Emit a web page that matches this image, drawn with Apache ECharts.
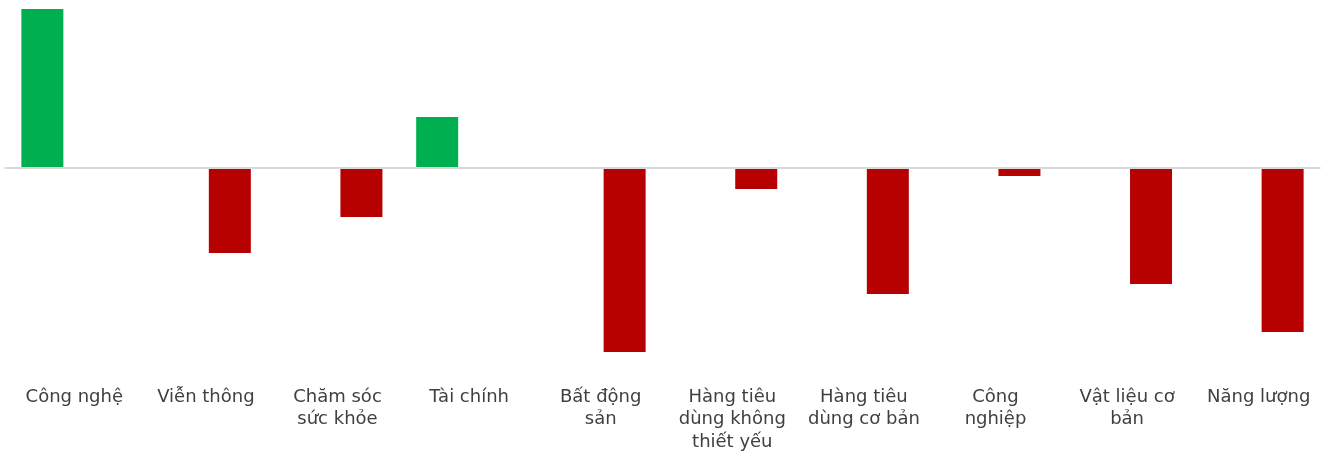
<!DOCTYPE html>
<html>
<head>
<meta charset="utf-8">
<script src="https://cdn.jsdelivr.net/npm/echarts@6/dist/echarts.min.js"></script>
<style>
html,body{margin:0;padding:0;background:#fff;}
#c{width:1328px;height:456px;}
</style>
</head>
<body>
<div id="c"></div>
<script>
var categories = ["Công nghệ", "Viễn thông", "Chăm sóc\nsức khỏe", "Tài chính", "Bất động\nsản", "Hàng tiêu\ndùng không\nthiết yếu", "Hàng tiêu\ndùng cơ bản", "Công\nnghiệp", "Vật liệu cơ\nbản", "Năng lượng"];
var positiveValues = [15.9, null, null, 5.1, null, null, null, null, null, null];
var negativeValues = [null, -8.5, -4.9, null, -18.4, -2.1, -12.6, -0.8, -11.6, -16.4];

var chart = echarts.init(document.getElementById('c'), null, {renderer: 'canvas'});
chart.setOption({
  animation: false,
  backgroundColor: '#ffffff',
  grid: {left: 4.5, right: 7.5, top: 9, bottom: 104, containLabel: false},
  xAxis: {
    type: 'category',
    data: categories,
    axisLine: {show: false, onZero: false},
    axisTick: {show: false},
    axisLabel: {
      interval: 0,
      margin: 34,
      fontFamily: 'DejaVu Sans',
      fontSize: 18,
      lineHeight: 22.5,
      color: '#404040',
      padding: [0, 0, 0, 8]
    }
  },
  yAxis: {
    type: 'value',
    min: -18.4,
    max: 15.9,
    show: false,
    splitLine: {show: false}
  },
  series: [
    {
      type: 'bar',
      data: positiveValues,
      barWidth: 42,
      barGap: '33%',
      itemStyle: {color: '#00b050'},
      markLine: {
        silent: true,
        symbol: 'none',
        label: {show: false},
        lineStyle: {color: '#d9d9d9', width: 2, type: 'solid'},
        data: [{yAxis: 0}]
      },
      z: 3
    },
    {
      type: 'bar',
      data: negativeValues,
      barWidth: 42,
      barGap: '33%',
      itemStyle: {color: '#b70000'},
      z: 3
    }
  ]
});
</script>
</body>
</html>
